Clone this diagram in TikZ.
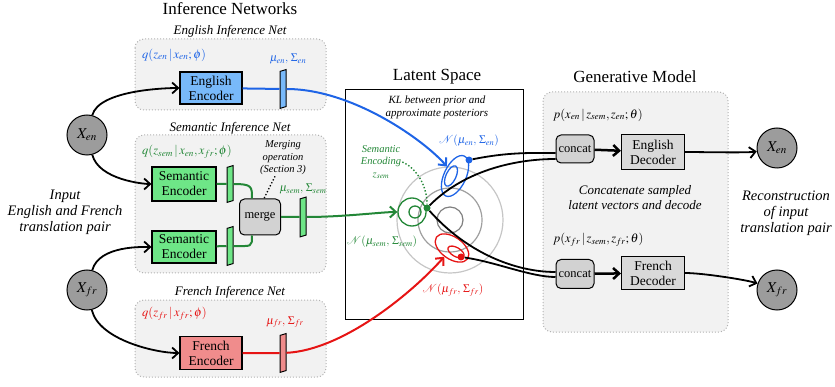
\documentclass[tikz,border=0pt]{standalone}
\usepackage{mathptmx}
\usepackage[no-math]{fontspec}
\setmainfont{Liberation Serif}
\usetikzlibrary{shapes.geometric,arrows.meta}
\definecolor{enblue}{RGB}{30,100,230}
\definecolor{enfill}{RGB}{120,185,250}
\definecolor{semgreen}{RGB}{35,135,55}
\definecolor{semfill}{RGB}{110,230,135}
\definecolor{frred}{RGB}{230,20,20}
\definecolor{frfill}{RGB}{240,140,140}
\newcommand{\fsz}[2]{\fontsize{#1}{#2}\selectfont}

\begin{document}
\begin{tikzpicture}[x=1pt,y=-1pt]
  \tikzset{every node/.style={inner sep=1pt},
    title/.style={font=\fsz{17}{19}},
    netlabel/.style={font=\fsz{13}{15}\itshape},
    mathlabel/.style={font=\fsz{12.5}{14},anchor=west},
    small/.style={font=\fsz{11.5}{13}},
    note/.style={font=\fsz{10.5}{12.5}\itshape,align=center},
    side/.style={font=\fsz{14.5}{16}\itshape,align=center},
    panel/.style={draw=gray!60,dotted,line width=1pt,fill=gray!10,rounded corners=9pt},
    coder/.style={draw,line width=1.1pt,minimum width=62pt,minimum height=32pt,align=center,font=\fsz{13.5}{15},inner sep=0pt},
    joiner/.style={draw,line width=1pt,rounded corners=5pt,fill=gray!35,font=\fsz{12.5}{14},inner sep=0pt},
    bar/.style={draw,line width=1pt,minimum width=6pt,minimum height=37pt,inner sep=0pt,yslant=0.3,transform shape},
    word/.style={circle,draw,line width=1pt,fill=gray!78,minimum size=40pt,font=\fsz{15}{17}},
    blob/.style={ellipse,line width=1.3pt,inner sep=0pt},
    dot/.style={circle,inner sep=0pt,minimum size=7pt},
    flow/.style={line width=2pt},
    link/.style={line width=1.8pt},
    arr/.style={-{Straight Barb[length=6pt,width=11pt]}}}
  \useasboundingbox (0,0) rectangle (835,387);

  \node[title](tInf) at (230,9) {Inference Networks};
  \node[title](tLat) at (437,77) {Latent Space};
  \node[title](tGen) at (635,77) {Generative Model};
  \draw[panel] (135,39) rectangle (326,110);
  \draw[panel] (135,135) rectangle (326,273);
  \draw[panel] (135,300) rectangle (326,377);
  \draw[panel] (543,92) rectangle (728,332);
  \draw[line width=1pt] (345,90) rectangle (523,319);
  \node[netlabel](lEN) at (230,31) {English Inference Net};
  \node[netlabel](lSEM) at (230,128) {Semantic Inference Net};
  \node[netlabel](lFR) at (230,292) {French Inference Net};
  \node[mathlabel,text=enblue](qEN) at (141,55) {$q(z_{en}\,|\,x_{en};\phi)$};
  \node[mathlabel,text=semgreen](qSEM) at (141,152) {$q(z_{sem}\,|\,x_{en},x_{fr};\phi)$};
  \node[mathlabel,text=frred](qFR) at (141,314) {$q(z_{fr}\,|\,x_{fr};\phi)$};
  \node[mathlabel](pEN) at (552,115) {$p(x_{en}\,|\,z_{sem},z_{en};\theta)$};
  \node[mathlabel](pFR) at (552,240) {$p(x_{fr}\,|\,z_{sem},z_{fr};\theta)$};

  \node[word](Xen) at (87,135) {$X_{en}$};
  \node[word](Xfr) at (87,290) {$X_{fr}$};
  \node[word](XenOut) at (777,148) {$X_{en}$};
  \node[word](XfrOut) at (777,290) {$X_{fr}$};
  \node[side](inTxt) at (65,212) {Input\\English and French\\translation pair};
  \node[side](outTxt) at (786,213) {Reconstruction\\of input\\translation pair};
  \node[netlabel,align=center](catTxt) at (635,198) {Concatenate sampled\\latent vectors and decode};

  \node[coder,fill=enfill](encEN) at (211,88) {English\\Encoder};
  \node[coder,fill=semfill,minimum width=64pt,minimum height=34pt](semEN) at (184,184) {Semantic\\Encoder};
  \node[coder,fill=semfill,minimum width=64pt,minimum height=32pt](semFR) at (184,247) {Semantic\\Encoder};
  \node[coder,fill=frfill,minimum height=33pt](encFR) at (211,353) {French\\Encoder};
  \node[coder,fill=gray!30,minimum width=63pt,minimum height=35pt](decEN) at (653,152) {English\\Decoder};
  \node[coder,fill=gray!30,minimum width=63pt,minimum height=33pt](decFR) at (653,273) {French\\Decoder};
  \node[joiner,minimum width=41pt,minimum height=36pt](merge) at (260,217) {merge};
  \node[joiner,minimum width=38pt,minimum height=28pt](catEN) at (575,149) {concat};
  \node[joiner,minimum width=38pt,minimum height=29pt](catFR) at (575,274) {concat};

  \node[bar,fill=enfill](barEN) at (283,89) {};
  \node[bar,fill=semfill,minimum height=35pt](barSEM1) at (230,184) {};
  \node[bar,fill=semfill](barSEM2) at (230,246) {};
  \node[bar,fill=semfill,minimum height=38pt](barSEM) at (303,217) {};
  \node[bar,fill=frfill](barFR) at (283,353) {};
  \node[small,text=enblue](muEN) at (288,59) {${\mu}_{en},\,\Sigma_{en}$};
  \node[small,text=semgreen](muSEM) at (303,189) {${\mu}_{sem},\,\Sigma_{sem}$};
  \node[small,text=frred](muFR) at (285,322) {${\mu}_{fr},\,\Sigma_{fr}$};
  \node[note](mergeTxt) at (283,158) {Merging\\operation\\(Section 3)};
  \draw[dotted,line width=1.3pt] ([xshift=-8pt]mergeTxt.south) -- ([xshift=4pt]merge.north);

  \node[note,font=\fsz{11}{13}\itshape](klTxt) at (437,107) {KL between prior and\\approximate posteriors};
  \coordinate (prior) at (450,220);
  \draw[gray!45,line width=1.2pt] (prior) circle (53);
  \draw[gray!75,line width=1.2pt] (prior) circle (32);
  \draw[gray,line width=1.2pt] (prior) circle (13);
  \node[blob,draw=enblue,minimum width=44pt,minimum height=22pt,rotate=65](enEll) at (455,176) {};
  \node[blob,draw=enblue,minimum width=22pt,minimum height=10pt,rotate=65](enIn) at (451,176) {};
  \node[blob,draw=frred,minimum width=38pt,minimum height=22pt,rotate=-35](frEll) at (452,248) {};
  \node[blob,draw=frred,minimum width=18pt,minimum height=9pt,rotate=-30](frIn) at (456,252) {};
  \node[circle,draw=semgreen,line width=1.3pt,minimum size=28pt,inner sep=0pt](semCirc) at (412,212) {};
  \node[circle,draw=semgreen,line width=1.3pt,minimum size=12pt,inner sep=0pt](semIn) at (415,212) {};
  \node[dot,fill=enblue](dotEN) at (469,160) {};
  \node[dot,fill=semgreen](dotSEM) at (427,208) {};
  \node[dot,fill=frred](dotFR) at (461,257) {};
  \node[small,text=enblue](nEN) at (469,141) {$\mathcal{N}({\mu}_{en},\,\Sigma_{en})$};
  \node[small,text=semgreen](nSEM) at (382,242) {$\mathcal{N}({\mu}_{sem},\,\Sigma_{sem})$};
  \node[small,text=frred](nFR) at (453,290) {$\mathcal{N}({\mu}_{fr},\,\Sigma_{fr})$};
  \node[note,text=semgreen](semTxt) at (381,162) {Semantic\\Encoding\\$z_{sem}$};
  \draw[semgreen,dotted,line width=1.4pt] (semTxt.east) ..controls +(12,5) and +(0,-25).. (dotSEM);

  \draw[flow,enblue] (encEN) -- (barEN);
  \draw[flow,enblue,arr] (barEN) ..controls +(70,0) and +(-30,-35).. (enEll);
  \draw[flow,semgreen] (semEN) -- (barSEM1);
  \draw[flow,semgreen] (semFR) -- (barSEM2);
  \draw[flow,semgreen] (barSEM1) ..controls +(22,0) and +(0,-12).. ([xshift=-8pt]merge.north);
  \draw[flow,semgreen] (barSEM2) ..controls +(22,0) and +(0,12).. ([xshift=-8pt]merge.south);
  \draw[flow,semgreen] (merge) -- (barSEM);
  \draw[flow,semgreen,arr] (barSEM) ..controls +(40,0) and +(-30,0).. (semCirc);
  \draw[flow,frred] (encFR) -- (barFR);
  \draw[flow,frred,arr] (barFR) ..controls +(60,-3) and +(-40,45).. (frEll);

  \draw[link,arr] (Xen) ..controls +(12,-45) and +(-45,0).. (encEN);
  \draw[link,arr] (Xen) ..controls +(12,45) and +(-40,0).. (semEN);
  \draw[link,arr] (Xfr) ..controls +(12,-45) and +(-40,0).. (semFR);
  \draw[link,arr] (Xfr) ..controls +(12,50) and +(-55,0).. (encFR);
  \draw[link] (dotEN) ..controls +(40,-8) and +(-25,0).. ([yshift=-4pt]catEN.west);
  \draw[link] (dotSEM) ..controls +(40,-40) and +(-35,0).. ([yshift=-10pt]catEN.west);
  \draw[link] (dotSEM) ..controls +(40,45) and +(-40,0).. ([yshift=2pt]catFR.west);
  \draw[link] (dotFR) ..controls +(35,5) and +(-25,0).. ([yshift=-3pt]catFR.west);
  \draw[link,line width=2.5pt,arr] (catEN) -- (decEN);
  \draw[link,line width=2.5pt,arr] (catFR) -- (decFR);
  \draw[link,arr] (decEN) ..controls +(50,0) and +(-30,5).. (XenOut);
  \draw[link,arr] (decFR) ..controls +(50,0) and +(-30,-10).. (XfrOut);
\end{tikzpicture}
\end{document}
